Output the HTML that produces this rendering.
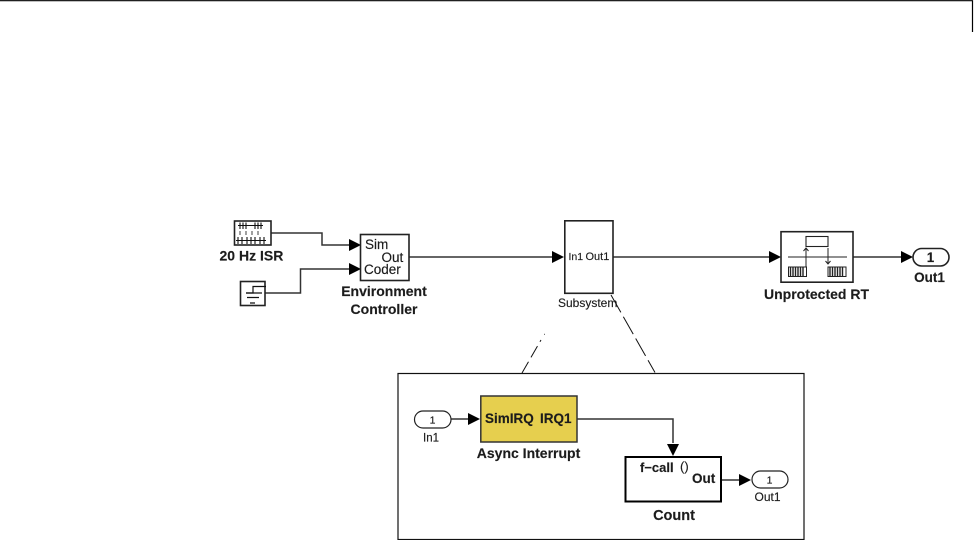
<!DOCTYPE html>
<html>
<head>
<meta charset="utf-8">
<style>
html,body{margin:0;padding:0;background:#fff;}
svg{display:block;}
text{font-family:"Liberation Sans",sans-serif;fill:#1c1c1c;stroke:#1c1c1c;stroke-width:0.15px;}
.b{font-weight:bold;font-size:14px;}
.w{fill:none;stroke:#333;stroke-width:1.5;}
.k{fill:none;stroke:#111;stroke-width:1.2;}
.box{fill:#fff;stroke:#222;stroke-width:1.6;}
</style>
</head>
<body>
<svg width="974" height="540" viewBox="0 0 974 540" xmlns="http://www.w3.org/2000/svg">
<rect width="974" height="540" fill="#fff"/>
<!-- page rule -->
<path d="M0 0.7H972.5V32" fill="none" stroke="#000" stroke-width="1.2"/>

<!-- wires -->
<path class="w" d="M271 233H322V245H350"/>
<path class="w" d="M265 293H300.500V269H350"/>
<path class="w" d="M409 257H552"/>
<path class="w" d="M613 257H770"/>
<path class="w" d="M853 257H902"/>

<!-- arrowheads -->
<g fill="#000">
<path d="M349 239L361 245L349 251Z"/>
<path d="M349 263L361 269L349 275Z"/>
<path d="M552 251L564 257L552 263Z"/>
<path d="M769 251L781 257L769 263Z"/>
<path d="M901 251L913 257L901 263Z"/>
</g>

<!-- 20 Hz ISR -->
<rect class="box" x="234.500" y="221" width="36.500" height="24"/>
<g stroke="#111" stroke-width="1.100" fill="none">
<path d="M238 225.500H263"/>
<path d="M240 222.500V229M243 222.500V229M246 222.500V229M255 222.500V229M258 222.500V229M261 222.500V229"/>
<path d="M236 240.500H266"/>
<path d="M238 237V244M242 237V244M247 237V244M251 237V244M255 237V244M260 237V244M264 237V244"/>
<path d="M240 231V235M246 231V235M252 231V235M258 231V235" stroke-width="0.800"/>
</g>
<text class="b" x="219.500" y="260.500" style="font-size:14px">20 Hz ISR</text>

<!-- Ground / source block -->
<rect class="box" x="240.500" y="281.500" width="24.500" height="24"/>
<path class="k" d="M246 293H253V286.500H266"/>
<path class="k" d="M246 293H262M247 297.500H259M250 303H255"/>

<!-- Environment Controller -->
<rect class="box" x="360.500" y="234.500" width="48.500" height="46"/>
<text x="365" y="249" style="font-size:13.500px">Sim</text>
<text x="381.500" y="262" style="font-size:13.500px">Out</text>
<text x="364" y="274" style="font-size:13.500px">Coder</text>
<text class="b" x="384" y="296" text-anchor="middle" style="font-size:14px">Environment</text>
<text class="b" x="384" y="314" text-anchor="middle" style="font-size:14px">Controller</text>

<!-- Subsystem -->
<rect class="box" x="564.800" y="220.800" width="48.200" height="72.500"/>
<text x="568.500" y="260" style="font-size:10.500px">In1</text>
<text x="585.500" y="260" style="font-size:11px">Out1</text>
<text x="558" y="307" style="font-size:12px">Subsystem</text>

<!-- Unprotected RT -->
<rect class="box" x="781" y="231.700" width="72" height="50.500"/>
<rect x="806" y="236.500" width="22" height="10" fill="#fff" stroke="#222" stroke-width="1.100"/>
<path d="M788 257H847" stroke="#222" stroke-width="1.100"/>
<path d="M806 267V248M803.500 251L806 248L808.500 251" fill="none" stroke="#222" stroke-width="1"/>
<path d="M828 248V264M825.500 261L828 264L830.500 261" fill="none" stroke="#222" stroke-width="1"/>
<g fill="#fff" stroke="#222" stroke-width="1">
<rect x="788.500" y="267" width="18" height="9.500"/>
<rect x="828" y="267" width="18" height="9.500"/>
</g>
<path d="M790.500 267V276.500M793 267V276.500M795.500 267V276.500M798 267V276.500M800.500 267V276.500M803 267V276.500M830 267V276.500M832.500 267V276.500M835 267V276.500M837.500 267V276.500M840 267V276.500M842.500 267V276.500" stroke="#222" stroke-width="1.400"/>
<text class="b" x="816.500" y="299" text-anchor="middle" style="font-size:14px">Unprotected RT</text>

<!-- Out1 port -->
<rect class="box" x="913" y="248.500" width="36" height="17.500" rx="8.700" ry="8.700"/>
<text class="b" x="930.500" y="262" text-anchor="middle" style="font-size:13.500px">1</text>
<text class="b" x="929.500" y="282" text-anchor="middle" style="font-size:13.500px">Out1</text>

<!-- Zoom dashed lines -->
<path d="M611 295L655 372.500" fill="none" stroke="#111" stroke-width="1" stroke-dasharray="20 5"/>
<path d="M522 373L541 340" fill="none" stroke="#111" stroke-width="1" stroke-dasharray="13 5 13 5"/>
<rect x="544" y="333.800" width="1" height="1" fill="#555"/>

<!-- Detail frame -->
<rect x="398" y="373.500" width="406" height="166" fill="#fff" stroke="#111" stroke-width="1.200"/>

<!-- wires in frame -->
<path class="w" d="M451 419H470"/>
<path class="w" d="M577 419H673V443"/>
<path class="w" d="M721 480H741"/>
<g fill="#000">
<path d="M468 413L480 419L468 425Z"/>
<path d="M667 444H679L673 456Z"/>
<path d="M739 474L751 480L739 486Z"/>
</g>

<!-- In1 -->
<rect x="414.500" y="411" width="36.500" height="17" rx="8.500" ry="8.500" fill="#fff" stroke="#222" stroke-width="1.200"/>
<text x="432.500" y="423.500" text-anchor="middle" style="font-size:10.500px">1</text>
<text x="431" y="441.500" text-anchor="middle" style="font-size:11.500px">In1</text>

<!-- Async Interrupt -->
<rect x="480.800" y="396" width="96.200" height="46" fill="#e6cf4e" stroke="#333" stroke-width="1.500"/>
<text class="b" x="485" y="423" style="font-size:13.500px">SimIRQ</text>
<text class="b" x="540" y="423" style="font-size:13.500px">IRQ1</text>
<text class="b" x="528.500" y="458" text-anchor="middle" style="font-size:14px">Async Interrupt</text>

<!-- Count -->
<rect x="625.500" y="457" width="95.500" height="44.500" fill="#fff" stroke="#000" stroke-width="2"/>
<text class="b" x="640" y="472" style="font-size:13px">f&#8722;call</text>
<text x="680" y="471" style="font-size:13px">()</text>
<text class="b" x="692" y="483" style="font-size:13.500px">Out</text>
<text class="b" x="674" y="520" text-anchor="middle" style="font-size:14.500px">Count</text>

<!-- Out1 small -->
<rect x="752" y="471" width="36" height="17" rx="8.500" ry="8.500" fill="#fff" stroke="#222" stroke-width="1.200"/>
<text x="769.500" y="483.500" text-anchor="middle" style="font-size:10.500px">1</text>
<text x="767.500" y="501" text-anchor="middle" style="font-size:12px">Out1</text>
</svg>
</body>
</html>
